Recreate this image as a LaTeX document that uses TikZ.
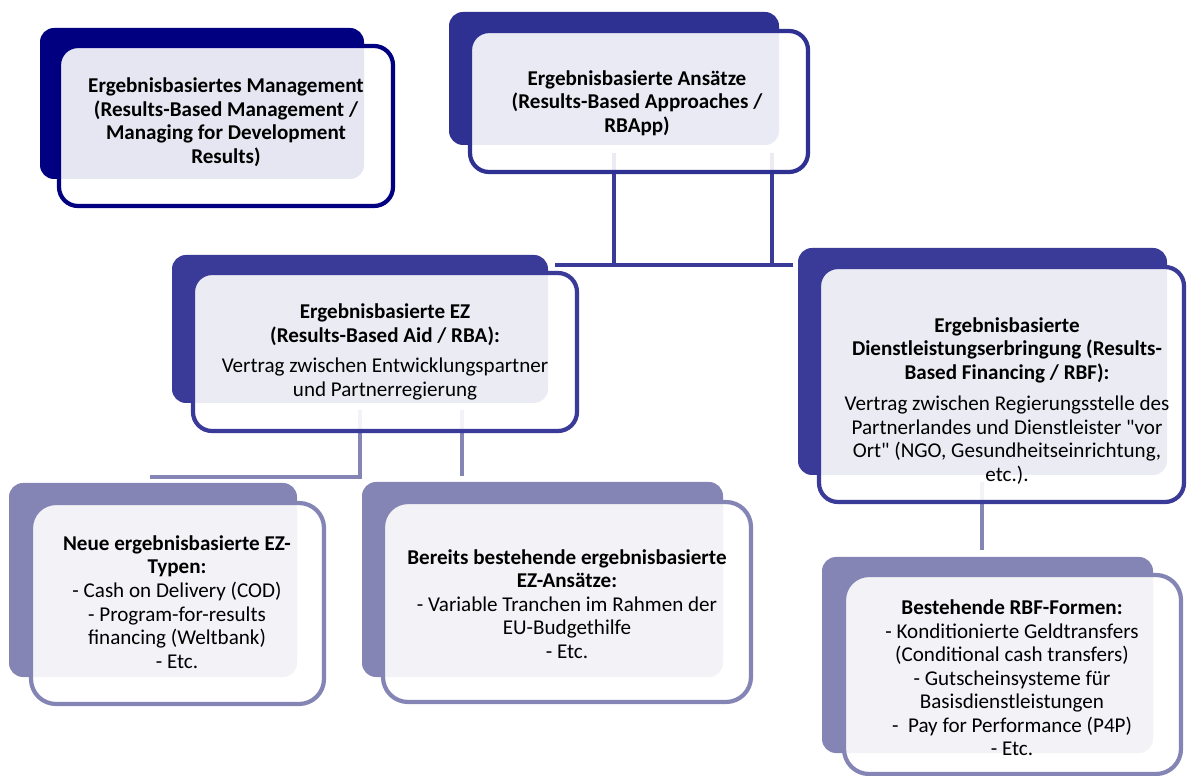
\documentclass[tikz,border=0pt]{standalone}
\usepackage{fontspec}
\setmainfont{Carlito}[Ligatures=TeXOff]
\definecolor{navyA}{HTML}{000080}
\definecolor{navyB}{HTML}{2E3192}
\definecolor{navyC}{HTML}{3A3A98}
\definecolor{lilac}{HTML}{8585B5}
\begin{document}
\begin{tikzpicture}[x=0.02cm,y=-0.02cm,
  back/.style={fill=#1, rounded corners=0.28cm},
  front/.style={draw=#1, line width=2.4pt, fill=white, fill opacity=0.9, rounded corners=0.38cm},
  frontlow/.style={draw=#1, line width=2.4pt, fill=white, fill opacity=0.9, rounded corners=0.5cm},
  conn/.style={draw=#1, line width=2.6pt},
  txt/.style={align=center, inner sep=0pt, font=\fontsize{12}{13.4}\selectfont, text=black}]
\useasboundingbox (0,0) rectangle (1187,776);
% back shapes
\fill[back=navyA] (40,28) rectangle (364,179);
\fill[back=navyB] (449,12) rectangle (779,145);
\fill[back=navyC] (172,255) rectangle (548,403);
\fill[back=navyC] (798,248) rectangle (1167,475);
\fill[back=lilac] (9,483) rectangle (297,677);
\fill[back=lilac] (362,482) rectangle (723,677);
\fill[back=lilac] (822,557) rectangle (1153,753);
% connector points
\coordinate (a1) at (614,153); \coordinate (a2) at (614,265);
\coordinate (b1) at (772,153); \coordinate (b2) at (772,265);
\coordinate (h1) at (555,265); \coordinate (h2) at (793,265);
\coordinate (c1) at (360,410); \coordinate (c2) at (360,478);
\coordinate (d1) at (462,410); \coordinate (d2) at (462,476);
\coordinate (g1) at (150,477); \coordinate (g2) at (362,477);
\coordinate (e1) at (982,482); \coordinate (e2) at (982,550);
\draw[conn=navyC] (a1) -- (a2);
\draw[conn=navyC] (b1) -- (b2);
\draw[conn=navyC] (h1) -- (h2);
\draw[conn=lilac] (c1) -- (c2);
\draw[conn=lilac] (d1) -- (d2);
\draw[conn=lilac] (g1) -- (g2);
\draw[conn=lilac] (e1) -- (e2);
% front shapes
\draw[front=navyA] (59,46) rectangle (393,206);
\draw[front=navyB] (470,31) rectangle (808,172);
\draw[front=navyC] (193,273) rectangle (577,431);
\draw[front=navyC] (819,267) rectangle (1184,502);
\draw[frontlow=lilac] (31,503) rectangle (324,704);
\draw[frontlow=lilac] (383,502) rectangle (751,702);
\draw[frontlow=lilac] (844,575) rectangle (1181,774);
% texts
\node[txt] (t1) at (226,122) {\bfseries Ergebnisbasiertes Management\\\bfseries (Results-Based Management /\\\bfseries Managing for Development\\\bfseries Results)};
\node[txt] (t2) at (637,103) {\bfseries Ergebnisbasierte Ansätze\\\bfseries (Results-Based Approaches /\\\bfseries RBApp)};
\node[txt] (t3) at (385,352) {\bfseries Ergebnisbasierte EZ\\\bfseries (Results-Based Aid / RBA):\\[4pt]Vertrag zwischen Entwicklungspartner\\und Partnerregierung};
\node[txt] (t4) at (1007,401) {\bfseries Ergebnisbasierte\\\bfseries Dienstleistungserbringung (Results-\\\bfseries Based Financing / RBF):\\[4.5pt]Vertrag zwischen Regierungsstelle des\\Partnerlandes und Dienstleister "vor\\Ort" (NGO, Gesundheitseinrichtung,\\etc.).};
\node[txt] (t5) at (177,602) {\bfseries Neue ergebnisbasierte EZ-\\\bfseries Typen:\\- Cash on Delivery (COD)\\- Program-for-results\\financing (Weltbank)\\- Etc.};
\node[txt] (t6) at (567,604) {\bfseries Bereits bestehende ergebnisbasierte\\\bfseries EZ-Ansätze:\\- Variable Tranchen im Rahmen der\\EU-Budgethilfe\\- Etc.};
\node[txt] (t7) at (1012,678) {\bfseries Bestehende RBF-Formen:\\- Konditionierte Geldtransfers\\(Conditional cash transfers)\\- Gutscheinsysteme für\\Basisdienstleistungen\\-\ \ Pay for Performance (P4P)\\- Etc.};
\end{tikzpicture}
\end{document}
